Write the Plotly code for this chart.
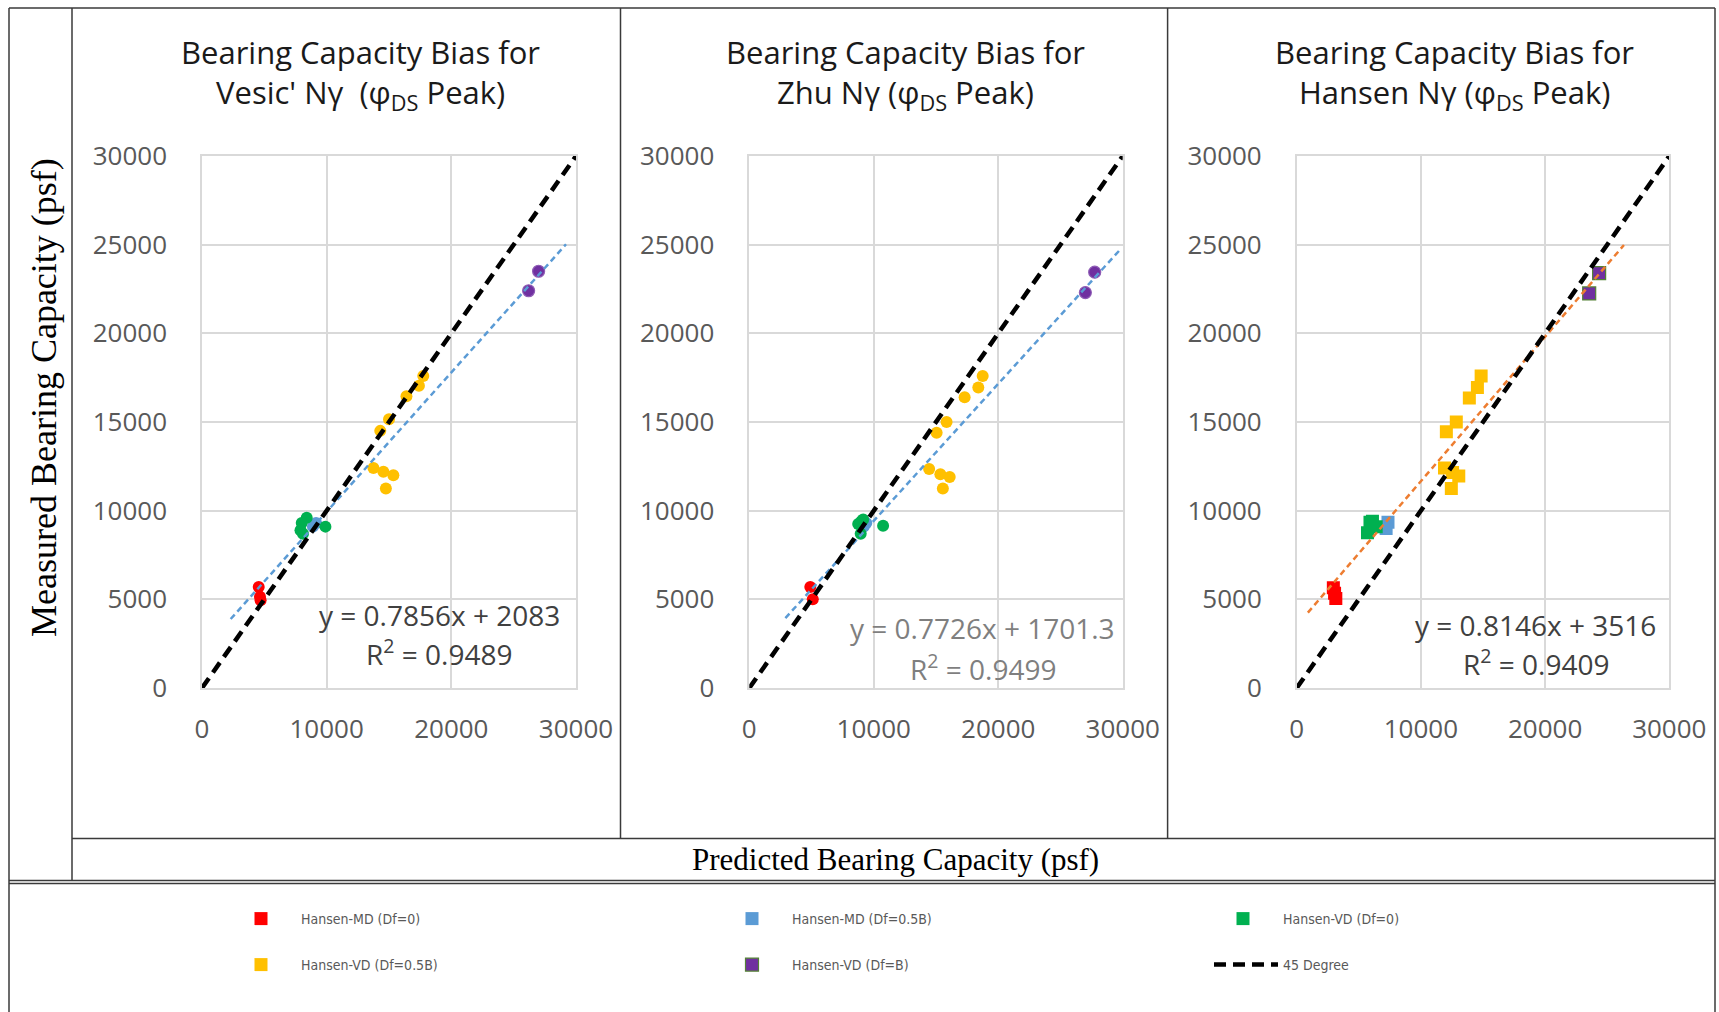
import plotly.graph_objects as go

W, H = 1719, 1012

# ---------------- data ----------------
TITLE_LINE1 = ["Bearing Capacity Bias for"] * 3
TITLE_LINE2 = [
    "Vesic' Nγ  (φ<sub>DS</sub> Peak)",
    "Zhu Nγ (φ<sub>DS</sub> Peak)",
    "Hansen Nγ (φ<sub>DS</sub> Peak)",
]
SERIES_NAMES = ["Hansen-MD (Df=0)", "Hansen-MD (Df=0.5B)", "Hansen-VD (Df=0)",
                "Hansen-VD (Df=0.5B)", "Hansen-VD (Df=B)"]
SERIES_COLORS = ["#FF0000", "#5B9BD5", "#00B050", "#FFC000", "#7030A0"]
LINE45_NAME = "45 Degree"

# Vesic' panel
VESIC_MD0_X = [4550, 4650, 4700]
VESIC_MD0_Y = [5700, 5150, 4950]
VESIC_MD05_X = [8900, 9150]
VESIC_MD05_Y = [9100, 9300]
VESIC_VD0_X = [8400, 8000, 8100, 9900, 7900]
VESIC_VD0_Y = [9600, 9300, 8700, 9100, 8900]
VESIC_VD05_X = [13750, 14550, 15350, 14750, 14300, 15000, 16400, 17400, 17750]
VESIC_VD05_Y = [12400, 12200, 12000, 11250, 14500, 15150, 16450, 17050, 17600]
VESIC_VDB_X = [26200, 27000]
VESIC_VDB_Y = [22400, 23500]

# Zhu panel
ZHU_MD0_X = [4900, 5100]
ZHU_MD0_Y = [5700, 5000]
ZHU_MD05_X = [9200, 9400]
ZHU_MD05_Y = [9100, 9300]
ZHU_VD0_X = [9150, 8750, 8950, 10750, 9000]
ZHU_VD0_Y = [9500, 9250, 8700, 9150, 9400]
ZHU_VD05_X = [14450, 15350, 16100, 15550, 15050, 15850, 17300, 18400, 18750]
ZHU_VD05_Y = [12350, 12050, 11900, 11250, 14400, 15000, 16400, 16950, 17600]
ZHU_VDB_X = [27000, 27750]
ZHU_VDB_Y = [22300, 23450]

# Hansen panel
HANSEN_MD0_X = [2950, 3050, 3150]
HANSEN_MD0_Y = [5650, 5350, 5050]
HANSEN_MD05_X = [7350, 7200]
HANSEN_MD05_Y = [9350, 9000]
HANSEN_VD0_X = [5900, 5700, 6400, 6100]
HANSEN_VD0_Y = [9350, 8750, 9100, 9400]
HANSEN_VD05_X = [11900, 12550, 13050, 12450, 12050, 12850, 13900, 14550, 14850]
HANSEN_VD05_Y = [12400, 12150, 11950, 11250, 14450, 15000, 16350, 16950, 17600]
HANSEN_VDB_X = [23550, 24350]
HANSEN_VDB_Y = [22250, 23400]

# trend lines (slope, intercept, r2) and the x-span they are drawn over
TREND_SLOPE = [0.7856, 0.7726, 0.8146]
TREND_INTERCEPT = [2083, 1701.3, 3516]
TREND_R2 = ["0.9489", "0.9499", "0.9409"]
TREND_X_START = [2300, 2900, 900]
TREND_X_END = [29200, 29900, 26350]
TREND_COLORS = ["#5B9BD5", "#5B9BD5", "#ED7D31"]
EQ_COLORS = ["#404040", "#7F7F7F", "#404040"]

LINE45_X = [0, 30000]
LINE45_Y = [0, 30000]

X_TICKS = [0, 10000, 20000, 30000]
Y_TICKS = [0, 5000, 10000, 15000, 20000, 25000, 30000]

PANELS = [
    [(VESIC_MD0_X, VESIC_MD0_Y), (VESIC_MD05_X, VESIC_MD05_Y), (VESIC_VD0_X, VESIC_VD0_Y),
     (VESIC_VD05_X, VESIC_VD05_Y), (VESIC_VDB_X, VESIC_VDB_Y)],
    [(ZHU_MD0_X, ZHU_MD0_Y), (ZHU_MD05_X, ZHU_MD05_Y), (ZHU_VD0_X, ZHU_VD0_Y),
     (ZHU_VD05_X, ZHU_VD05_Y), (ZHU_VDB_X, ZHU_VDB_Y)],
    [(HANSEN_MD0_X, HANSEN_MD0_Y), (HANSEN_MD05_X, HANSEN_MD05_Y), (HANSEN_VD0_X, HANSEN_VD0_Y),
     (HANSEN_VD05_X, HANSEN_VD05_Y), (HANSEN_VDB_X, HANSEN_VDB_Y)],
]

# ---------------- layout helpers ----------------
def px(x):
    return x / W

def py(y):
    return 1 - y / H

PLOT_LEFT = [202, 749.3, 1296.7]
PLOT_RIGHT = [576, 1122.7, 1669.3]
PLOT_TOP, PLOT_BOTTOM = 156, 688

# legend slots (symbol centre x, row centre y) in pixels
LEG_POS = [(261, 919), (752, 919), (1243, 919), (261, 965), (752, 965), (1243, 965)]
LEG_KEYS = ["legend", "legend2", "legend3", "legend4", "legend5", "legend6"]

fig = go.Figure()

GRID = "#D9D9D9"
TICK_FONT = dict(family="Open Sans, DejaVu Sans", size=26, color="#595959")

layout = dict(
    width=W, height=H, margin=dict(l=0, r=0, t=0, b=0, autoexpand=False),
    paper_bgcolor="white", plot_bgcolor="white",
    showlegend=True,
)

for i in range(3):
    xa = "x" if i == 0 else f"x{i+1}"
    ya = "y" if i == 0 else f"y{i+1}"
    xkey = "xaxis" if i == 0 else f"xaxis{i+1}"
    ykey = "yaxis" if i == 0 else f"yaxis{i+1}"
    layout[xkey] = dict(
        domain=[px(PLOT_LEFT[i]), px(PLOT_RIGHT[i])], anchor=ya, range=[0, 30000],
        tickvals=X_TICKS, ticktext=[str(v) for v in X_TICKS], showgrid=True, gridcolor=GRID,
        gridwidth=1.5, zeroline=False, showline=True, linecolor=GRID, linewidth=1.5, mirror=True,
        ticks="", tickfont=TICK_FONT, ticklabelstandoff=17, automargin=False,
    )
    layout[ykey] = dict(
        domain=[py(PLOT_BOTTOM), py(PLOT_TOP)], anchor=xa, range=[0, 30000],
        tickvals=Y_TICKS, ticktext=[str(v) for v in Y_TICKS], showgrid=True, gridcolor=GRID,
        gridwidth=1.5, zeroline=False, showline=True, linecolor=GRID, linewidth=1.5, mirror=True,
        ticks="", tickfont=TICK_FONT, ticklabelstandoff=28, automargin=False,
    )

    symbol = "square" if i == 2 else "circle"
    for s, (xs, ys) in enumerate(PANELS[i]):
        line_col = SERIES_COLORS[s]
        if s == 4:
            line_col = "#548235" if i == 2 else "#8E5CB5"
        fig.add_trace(go.Scatter(
            x=xs, y=ys, mode="markers", name=SERIES_NAMES[s],
            marker=dict(symbol=symbol, size=13 if i == 2 else 12, color=SERIES_COLORS[s],
                        line=dict(width=1.2 if s == 4 else 0, color=line_col)),
            xaxis=xa, yaxis=ya,
            showlegend=(i == 2), legend=LEG_KEYS[s],
        ))

    # trend line
    tx = [TREND_X_START[i], TREND_X_END[i]]
    ty = [TREND_SLOPE[i] * v + TREND_INTERCEPT[i] for v in tx]
    fig.add_trace(go.Scatter(
        x=tx, y=ty, mode="lines", line=dict(color=TREND_COLORS[i], width=2.5, dash="6px,4px"),
        xaxis=xa, yaxis=ya, showlegend=False, hoverinfo="skip",
    ))
    # 45 degree line
    fig.add_trace(go.Scatter(
        x=LINE45_X, y=LINE45_Y, mode="lines", name=LINE45_NAME,
        line=dict(color="black", width=4.5, dash="12px,7px"),
        xaxis=xa, yaxis=ya, showlegend=(i == 2), legend=LEG_KEYS[5],
    ))

LEG_FONT = dict(family="Liberation Sans Narrow, DejaVu Sans Condensed, Roboto Condensed, Roboto",
                size=14, color="#595959")
for k, key in enumerate(LEG_KEYS):
    mx, my = LEG_POS[k]
    if k == 5:
        layout[key] = dict(x=px(mx - 34), y=py(my), xanchor="left", yanchor="middle",
                           bgcolor="rgba(0,0,0,0)", font=LEG_FONT, itemwidth=64)
    else:
        layout[key] = dict(x=px(mx - 40), y=py(my), xanchor="left", yanchor="middle",
                           bgcolor="rgba(0,0,0,0)", font=LEG_FONT, itemwidth=70)

annotations = []
TITLE_CX = [360, 906, 1454]
EQ_POS = [(0.634, 0.137, 0.066), (0.625, 0.113, 0.039), (0.642, 0.118, 0.047)]
TITLE_FONT = dict(family="Open Sans", size=31, color="#1a1a1a")
for i in range(3):
    annotations.append(dict(
        text=TITLE_LINE1[i], x=px(TITLE_CX[i]), y=py(52), xref="paper", yref="paper",
        showarrow=False, xanchor="center", yanchor="middle", font=TITLE_FONT,
    ))
    annotations.append(dict(
        text=TITLE_LINE2[i], x=px(TITLE_CX[i]), y=py(94), xref="paper", yref="paper",
        showarrow=False, xanchor="center", yanchor="middle", font=TITLE_FONT,
    ))
    xa = "x" if i == 0 else f"x{i+1}"
    ya = "y" if i == 0 else f"y{i+1}"
    exd, ey1, ey2 = EQ_POS[i]
    eq = f"y = {TREND_SLOPE[i]}x + {TREND_INTERCEPT[i]:g}"
    annotations.append(dict(
        text=eq, x=exd, y=ey1, xref=f"{xa} domain", yref=f"{ya} domain", showarrow=False,
        xanchor="center", yanchor="middle",
        font=dict(family="Open Sans", size=28, color=EQ_COLORS[i]),
    ))
    annotations.append(dict(
        text=f"R<sup>2</sup> = {TREND_R2[i]}", x=exd, y=ey2, xref=f"{xa} domain", yref=f"{ya} domain",
        showarrow=False, xanchor="center", yanchor="middle",
        font=dict(family="Open Sans", size=28, color=EQ_COLORS[i]),
    ))

annotations.append(dict(
    text="Measured Bearing Capacity (psf)", x=px(44), y=py(398), xref="paper", yref="paper",
    showarrow=False, textangle=-90, xanchor="center", yanchor="middle",
    font=dict(family="Liberation Serif", size=36, color="black"),
))
annotations.append(dict(
    text="Predicted Bearing Capacity (psf)", x=px(895), y=py(859), xref="paper", yref="paper",
    showarrow=False, xanchor="center", yanchor="middle",
    font=dict(family="Liberation Serif", size=31, color="black"),
))
layout["annotations"] = annotations

# table borders
BORDER = "#3a3a3a"
shapes = []
def hline(y, x0, x1, w=1.5):
    shapes.append(dict(type="line", xref="paper", yref="paper", x0=px(x0), x1=px(x1),
                       y0=py(y), y1=py(y), line=dict(color=BORDER, width=w)))
def vline(x, y0, y1, w=1.5):
    shapes.append(dict(type="line", xref="paper", yref="paper", x0=px(x), x1=px(x),
                       y0=py(y0), y1=py(y1), line=dict(color=BORDER, width=w)))

hline(8, 9, 1715)
hline(838.6, 72, 1715)
hline(880.5, 9, 1715)
hline(883.5, 9, 1715)
vline(9, 8, 1012)
vline(1715, 8, 1012)
vline(72, 8, 880.5)
vline(620.5, 8, 838.6)
vline(1167.6, 8, 838.6)
layout["shapes"] = shapes

fig.update_layout(**layout)
fig.write_html("out.html")
